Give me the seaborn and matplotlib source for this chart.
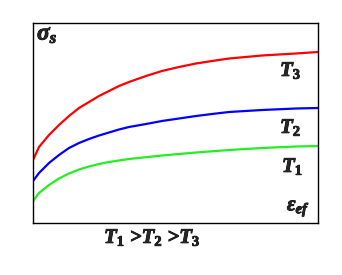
import matplotlib
matplotlib.use("Agg")
import matplotlib.pyplot as plt
import matplotlib.patheffects as pe
import seaborn as sns
import pandas as pd

sns.set_style("white")
plt.rcParams['font.family'] = ['Liberation Serif', 'DejaVu Serif']
plt.rcParams['mathtext.fontset'] = 'custom'
plt.rcParams['mathtext.it'] = 'Liberation Serif:italic:bold'
plt.rcParams['mathtext.rm'] = 'Liberation Serif:bold'
plt.rcParams['mathtext.bf'] = 'Liberation Serif:bold'

# strain (relative units) and flow stress (relative units)
strain_t3 = [0, 6, 16, 26, 36, 46, 56, 66, 76, 86, 96, 113, 129, 146, 163, 179, 196, 229, 263, 285]
stress_t3 = [63, 76, 88, 98, 107, 115, 121, 127, 132, 137, 141, 147, 152, 156, 159.5, 162, 164.5, 167.5, 169.5, 171]
strain_t2 = [0, 6, 16, 26, 36, 46, 56, 66, 76, 86, 96, 113, 129, 146, 163, 179, 196, 229, 263, 285]
stress_t2 = [42, 50, 60, 68, 75, 80, 84, 87.5, 90.5, 93.5, 96, 99, 102, 104.5, 107, 109, 111, 113, 114.5, 115]
strain_t1 = [0, 6, 16, 26, 36, 46, 56, 66, 76, 86, 96, 129, 163, 196, 229, 263, 285]
stress_t1 = [22, 30, 38, 44.5, 49.5, 53.5, 56.5, 59, 61, 62.5, 64, 67.5, 70.5, 73, 75, 76.5, 77]
series_names = ["T3", "T2", "T1"]
colors = ["#ff0000", "#0000ff", "#22ee22"]

frames = []
for name, xs, ys in zip(series_names, [strain_t3, strain_t2, strain_t1],
                        [stress_t3, stress_t2, stress_t1]):
    frames.append(pd.DataFrame({"strain": xs, "stress": ys, "T": name}))
df = pd.concat(frames, ignore_index=True)

W, H = 342, 275
fig = plt.figure(figsize=(W / 100, H / 100), dpi=100)
ax = fig.add_axes([33 / W, 52 / H, 285 / W, 200 / H])
sns.lineplot(data=df, x="strain", y="stress", hue="T", palette=colors,
             hue_order=series_names, ax=ax, legend=False, linewidth=1.6,
             estimator=None, sort=True)
ax.set_xlim(0, 285)
ax.set_ylim(0, 200)
ax.set_xticks([])
ax.set_yticks([])
ax.set_xlabel("")
ax.set_ylabel("")
for s in ax.spines.values():
    s.set_color("black")
    s.set_linewidth(1.0)

def px(x, y):
    return x / W, 1 - y / H

fx = [pe.withStroke(linewidth=0.6, foreground="black")]
fs = 15
fig.text(*px(37, 24), r"$\mathit{σ}_\mathit{s}$", fontsize=17, va="top", ha="left", path_effects=fx)
fig.text(*px(280, 60), r"$T_3$", fontsize=fs, va="top", ha="left", path_effects=fx)
fig.text(*px(280, 117), r"$T_2$", fontsize=fs, va="top", ha="left", path_effects=fx)
fig.text(*px(282, 156), r"$T_1$", fontsize=fs, va="top", ha="left", path_effects=fx)
fig.text(*px(287, 199), r"$\mathit{ε}_\mathit{ef}$", fontsize=fs, va="top", ha="left", path_effects=fx)
fig.text(*px(104, 227), r"$T_1$ >$T_2$ >$T_3$", fontsize=fs, va="top", ha="left",
         fontweight="bold", style="italic", path_effects=fx)

fig.savefig("out.png", dpi=100)
